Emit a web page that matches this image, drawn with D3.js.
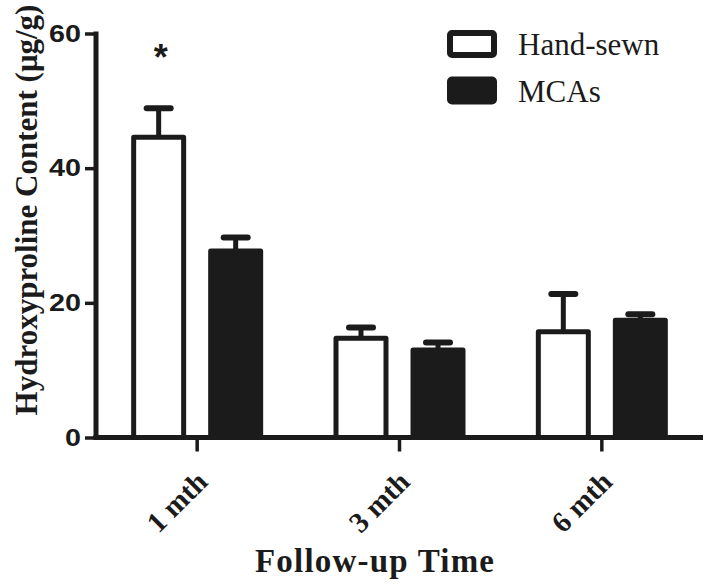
<!DOCTYPE html>
<html>
<head>
<meta charset="utf-8">
<script src="https://cdn.jsdelivr.net/npm/d3@7"></script>
<style>
  html, body { margin: 0; padding: 0; background: #fff; }
  svg { display: block; }
</style>
</head>
<body>
<svg id="chart" width="708" height="584"></svg>
<script>
const categories = ["1 mth", "3 mth", "6 mth"];
const seriesNames = ["Hand-sewn", "MCAs"];
const handSewn = [44.6, 14.75, 15.7];
const handSewnErr = [4.3, 1.6, 5.6];
const mcas = [27.7, 13.0, 17.4];
const mcasErr = [2.0, 1.1, 0.9];
const yTicks = [0, 20, 40, 60];
const significant = [true, false, false];

const ink = "#1b1b1b";
const svg = d3.select("#chart");

const x0 = d3.scaleBand().domain(categories).range([96, 703]).padding(0);
const x1 = d3.scaleBand().domain(seriesNames).range([-66, 66]).paddingInner(0.286).paddingOuter(0);
const y = d3.scaleLinear().domain([0, 60]).range([437.5, 33.5]);

const data = categories.map((c, i) => ({
  cat: c,
  sig: significant[i],
  vals: [
    { s: "Hand-sewn", v: handSewn[i], e: handSewnErr[i] },
    { s: "MCAs", v: mcas[i], e: mcasErr[i] }
  ]
}));

const sw = 5;
const groups = svg.append("g").selectAll("g").data(data).join("g")
  .attr("transform", d => `translate(${x0(d.cat) + x0.bandwidth() / 2},0)`);

// error bars (upper only)
groups.selectAll("g.err").data(d => d.vals).join("g").attr("class", "err").each(function(d) {
  const g = d3.select(this);
  const cx = x1(d.s) + x1.bandwidth() / 2;
  g.append("line").attr("x1", cx).attr("x2", cx)
    .attr("y1", y(d.v)).attr("y2", y(d.v + d.e))
    .attr("stroke", ink).attr("stroke-width", 5);
  g.append("line").attr("x1", cx - 12).attr("x2", cx + 12)
    .attr("y1", y(d.v + d.e)).attr("y2", y(d.v + d.e))
    .attr("stroke", ink).attr("stroke-width", 6).attr("stroke-linecap", "round");
});

// bars
groups.selectAll("rect").data(d => d.vals).join("rect")
  .attr("x", d => x1(d.s) + sw / 2)
  .attr("width", x1.bandwidth() - sw)
  .attr("y", d => y(d.v))
  .attr("height", d => y(0) - y(d.v))
  .attr("fill", d => d.s === "Hand-sewn" ? "#fff" : ink)
  .attr("stroke", ink)
  .attr("stroke-width", sw)
  .attr("stroke-linejoin", "round");

// significance star
groups.filter(d => d.sig).append("text")
  .attr("x", x1("Hand-sewn") + x1.bandwidth() / 2 + 2)
  .attr("y", d => y(d.vals[0].v + d.vals[0].e) - 38)
  .attr("text-anchor", "middle")
  .attr("font-family", "Liberation Sans, Arial, sans-serif")
  .attr("font-weight", "bold")
  .attr("font-size", 36)
  .attr("fill", ink)
  .text("*");

// y axis
const yAxis = svg.append("g").attr("transform", "translate(96,0)")
  .call(d3.axisLeft(y).tickValues(yTicks).tickSize(11).tickSizeOuter(0).tickPadding(4));
yAxis.select(".domain").attr("stroke", ink).attr("stroke-width", 5).attr("d", `M0,${y(60) - 2}V${y(0) + 2}`);
yAxis.selectAll(".tick line").attr("stroke", ink).attr("stroke-width", 3.5);
yAxis.selectAll(".tick text")
  .attr("font-family", "Liberation Sans, Arial, sans-serif")
  .attr("font-weight", "bold")
  .attr("font-size", 24)
  .attr("fill", ink)
  .attr("textLength", d => String(d).length * 16)
  .attr("lengthAdjust", "spacingAndGlyphs");

// x axis
const xAxis = svg.append("g").attr("transform", `translate(0,${y(0)})`)
  .call(d3.axisBottom(x0).tickSize(14).tickSizeOuter(0));
xAxis.select(".domain").attr("stroke", ink).attr("stroke-width", 5).attr("d", "M93.5,0H703");
xAxis.selectAll(".tick line").attr("stroke", ink).attr("stroke-width", 3.5);
xAxis.selectAll(".tick text")
  .attr("font-family", "Liberation Serif, Times New Roman, serif")
  .attr("font-weight", "bold")
  .attr("font-size", 29)
  .attr("fill", ink)
  .attr("text-anchor", "end")
  .attr("x", 0).attr("y", 0).attr("dy", null)
  .attr("transform", "translate(12,46) rotate(-45)");

// axis titles
svg.append("text")
  .attr("x", 255).attr("y", 572)
  .attr("font-family", "Liberation Serif, Times New Roman, serif")
  .attr("font-weight", "bold")
  .attr("font-size", 33)
  .attr("letter-spacing", 1.2)
  .attr("fill", ink)
  .text("Follow-up Time");

svg.append("text")
  .attr("transform", "translate(37,210) rotate(-90)")
  .attr("text-anchor", "middle")
  .attr("font-family", "Liberation Serif, Times New Roman, serif")
  .attr("font-weight", "bold")
  .attr("font-size", 31)
  .attr("fill", ink)
  .text("Hydroxyproline Content (μg/g)");

// legend
const legend = svg.append("g");
const li = legend.selectAll("g").data(seriesNames).join("g")
  .attr("transform", (d, i) => `translate(447,${30 + i * 46.5})`);
li.append("rect")
  .attr("x", 3).attr("y", 3).attr("width", 44).attr("height", 22).attr("rx", 2)
  .attr("fill", d => d === "Hand-sewn" ? "#fff" : ink)
  .attr("stroke", ink).attr("stroke-width", 6).attr("stroke-linejoin", "round");
li.append("text")
  .attr("x", 71).attr("y", 25)
  .attr("font-family", "Liberation Serif, Times New Roman, serif")
  .attr("font-size", 31)
  .attr("fill", ink)
  .text(d => d);
</script>
</body>
</html>
